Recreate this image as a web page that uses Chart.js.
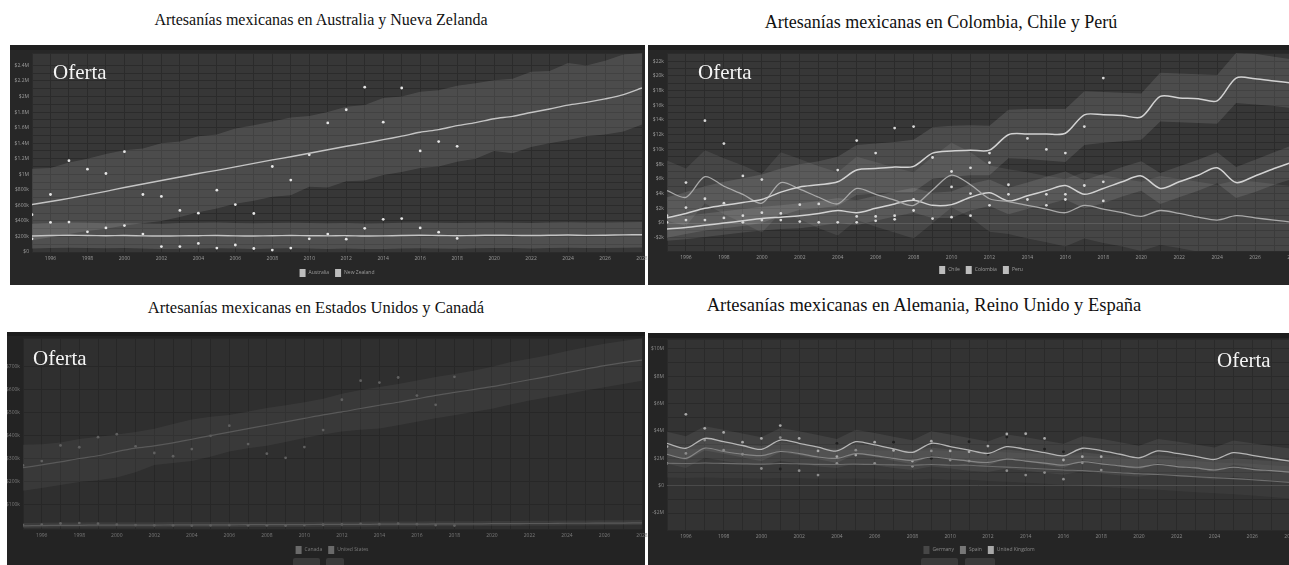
<!DOCTYPE html>
<html><head><meta charset="utf-8">
<script src="https://cdn.jsdelivr.net/npm/chart.js@4.4.1/dist/chart.umd.min.js"></script>
<style>
body{margin:0;width:1289px;height:565px;overflow:hidden;position:relative;background:#fff;}
.title{position:absolute;font-family:'Liberation Serif','Times New Roman',serif;color:#111;white-space:nowrap;text-align:center;line-height:1;}
.oferta{position:absolute;font-family:'Liberation Serif','Times New Roman',serif;color:#f4f4f4;font-size:21px;line-height:1;z-index:5;}
canvas{position:absolute;}
</style></head><body>
<div class="title" style="left:0;width:642px;top:12px;font-size:16px">Artesanías mexicanas en Australia y Nueva Zelanda</div>
<div class="title" style="left:620px;width:642px;top:13px;font-size:18px">Artesanías mexicanas en Colombia, Chile y Perú</div>
<div class="title" style="left:0;width:632px;top:300px;font-size:16.5px">Artesanías mexicanas en Estados Unidos y Canadá</div>
<div class="title" style="left:603px;width:642px;top:296px;font-size:18.5px">Artesanías mexicanas en Alemania, Reino Unido y España</div>
<canvas id="c1" width="655" height="240" style="left:10px;top:45px"></canvas>
<canvas id="c2" width="665" height="240" style="left:648px;top:45px"></canvas>
<canvas id="c3" width="658" height="240" style="left:7px;top:332px"></canvas>
<canvas id="c4" width="665" height="240" style="left:648px;top:333px"></canvas>
<div class="oferta" style="left:53px;top:62px">Oferta</div>
<div class="oferta" style="left:698px;top:62px">Oferta</div>
<div class="oferta" style="left:33px;top:348px">Oferta</div>
<div class="oferta" style="left:1217px;top:350px">Oferta</div>
<script>
// ---------- data ----------
const YEARS = [1995,1996,1997,1998,1999,2000,2001,2002,2003,2004,2005,2006,2007,2008,2009,2010,2011,2012,2013,2014,2015,2016,2017,2018,2019,2020,2021,2022,2023,2024,2025,2026,2027,2028];
const HIST_YEARS = [1995,1996,1997,1998,1999,2000,2001,2002,2003,2004,2005,2006,2007,2008,2009,2010,2011,2012,2013,2014,2015,2016,2017,2018];

// Panel 1: Australia / New Zealand (thousand USD)
const AU_FORECAST = [610,650,690,735,780,830,875,920,965,1010,1050,1095,1140,1185,1225,1270,1315,1360,1400,1445,1490,1540,1575,1625,1665,1715,1745,1795,1840,1890,1925,1970,2025,2110];
const AU_UPPER = [1070,1080,1150,1200,1260,1310,1330,1400,1420,1490,1510,1590,1630,1680,1730,1750,1800,1870,1890,1980,2000,2060,2080,2140,2170,2210,2230,2320,2330,2430,2400,2460,2540,2560];
const AU_LOWER = [150,190,230,270,300,340,370,400,450,510,560,620,660,710,730,840,830,910,920,990,1030,1080,1100,1160,1200,1300,1270,1350,1400,1440,1490,1510,1550,1640];
const AU_ACTUAL = [480,740,1175,1065,1010,1290,740,715,535,500,795,610,495,1100,925,1250,1660,1830,2120,1670,2110,1300,1420,1360];
const NZ_FORECAST = [205,212,215,213,210,212,208,205,207,210,212,208,206,209,212,210,208,210,205,207,212,215,212,210,213,216,214,212,215,218,214,216,220,222];
const NZ_UPPER = [365,372,378,375,370,372,368,365,372,375,378,372,370,373,376,372,370,372,368,370,376,378,375,372,377,380,376,374,378,382,378,380,384,386];
const NZ_LOWER = [45,52,55,50,48,50,46,40,42,45,48,44,40,44,48,45,40,44,38,40,45,48,44,42,48,52,50,46,50,54,50,52,56,58];
const NZ_ACTUAL = [170,380,385,260,310,340,230,70,70,110,50,90,45,25,50,170,230,165,305,420,430,310,255,175];

// Panel 2: Colombia / Chile / Peru (thousand USD)
const CO_FORECAST = [0.7,1.3,2.0,2.4,2.8,3.2,4.2,4.9,5.2,5.6,7.2,7.4,7.6,7.7,9.5,9.8,9.9,9.9,12.0,12.1,12.1,12.2,14.7,14.7,14.6,14.4,17.2,17.0,16.9,16.6,19.7,19.6,19.3,19.0];
const CO_UPPER = [3.5,4.2,5.0,5.6,6.1,6.6,7.4,8.0,8.4,9.0,10.6,10.8,11.0,11.3,13.0,13.2,13.3,13.2,15.4,15.5,15.5,15.5,17.9,17.8,17.7,17.6,20.4,20.3,20.2,20.1,23.1,23.0,22.6,22.2];
const CO_LOWER = [-2.0,-1.5,-1.0,-0.7,-0.4,0.0,1.0,1.8,2.0,2.3,3.8,4.0,4.2,4.2,6.0,6.3,6.5,6.5,8.8,8.7,8.5,8.3,10.6,10.9,11.1,11.3,13.8,13.7,13.6,13.5,16.3,16.1,15.9,15.6];
const CO_ACTUAL = [1.0,5.5,13.9,10.8,6.4,5.9,null,2.5,2.6,7.2,11.2,9.5,12.9,13.1,8.9,7.0,7.5,9.5,5.2,11.5,10.0,9.5,13.1,19.7];
const CL_FORECAST = [4.4,3.5,6.3,5.0,3.9,2.7,5.5,4.6,3.5,2.6,4.7,3.9,3.1,2.4,4.5,6.5,5.2,3.3,2.9,2.4,1.9,1.4,2.4,1.9,1.4,0.9,1.7,1.3,0.8,0.4,1.0,0.7,0.4,0.1];
const CL_UPPER = [8.5,7.4,9.9,8.8,7.8,6.7,9.6,8.7,7.7,6.9,9.0,8.3,7.5,6.9,9.0,10.9,9.6,7.8,7.3,6.9,6.4,6.0,6.9,6.5,6.0,5.6,6.4,6.0,5.6,5.2,5.8,5.6,5.3,5.0];
const CL_LOWER = [0.3,-0.4,2.7,1.2,0.0,-1.3,1.4,0.5,-0.7,-1.7,0.4,-0.5,-1.3,-2.1,0.0,2.1,0.8,-1.2,-1.5,-2.1,-2.6,-3.2,-2.1,-2.7,-3.2,-3.8,-3.0,-3.4,-3.9,-4.4,-3.8,-4.2,-4.5,-4.8];
const CL_ACTUAL = [null,2.1,3.3,2.7,1.0,1.4,1.3,null,null,null,0.9,0.9,1.0,3.2,null,4.9,4.0,8.2,3.9,3.2,3.9,3.9,5.1,5.6];
const PE_FORECAST = [-0.8,-0.6,-0.3,0.0,0.3,0.6,0.8,1.0,1.3,1.7,1.4,2.0,2.6,3.1,2.4,2.5,3.5,4.1,3.0,3.7,4.4,5.1,3.9,4.7,5.6,6.4,4.7,5.6,6.5,7.5,5.5,6.4,7.4,8.3];
const PE_UPPER = [0.8,1.0,1.3,1.6,1.9,2.2,2.4,2.7,3.0,3.4,3.1,3.7,4.3,4.8,4.1,4.3,5.3,5.9,4.8,5.5,6.3,7.0,5.8,6.7,7.6,8.4,6.8,7.7,8.6,9.6,7.6,8.6,9.6,10.6];
const PE_LOWER = [-2.4,-2.2,-1.9,-1.6,-1.3,-1.0,-0.8,-0.7,-0.4,0.0,-0.3,0.3,0.9,1.4,0.7,0.7,1.7,2.3,1.2,1.9,2.5,3.2,2.0,2.7,3.6,4.4,2.6,3.5,4.4,5.4,3.4,4.2,5.2,6.0];
const PE_ACTUAL = [0.1,0.4,0.4,0.7,0.1,0.4,0.4,0.2,0.1,0.1,0.1,0.3,0.5,1.7,0.6,0.8,1.0,2.4,null,null,2.4,3.2,null,3.0];

// Panel 3: United States / Canada (thousand USD)
const US_FORECAST = [260,272,285,300,312,330,345,355,368,384,400,415,430,445,460,475,490,503,518,532,545,560,575,588,600,613,628,643,658,674,690,705,718,729];
const US_UPPER = [360,362,370,385,395,405,415,430,450,470,482,490,505,520,532,545,560,582,598,612,625,640,655,668,682,700,720,735,750,768,785,800,812,824];
const US_LOWER = [160,172,185,198,205,217,240,272,280,289,308,331,345,356,372,389,405,418,425,431,445,460,475,489,503,517,535,553,567,581,596,610,625,639];
const US_ACTUAL = [270,289,357,349,393,406,353,324,310,341,399,443,363,321,303,350,424,556,639,631,653,574,534,656];
const CA_FORECAST = [7,8,9,9,10,10,10,10,11,11,11,11,12,12,12,12,13,13,13,14,14,14,15,15,15,16,16,17,17,18,18,19,19,20];
const CA_UPPER = [19,20,21,21,22,22,22,22,23,23,23,23,24,24,24,24,25,25,25,26,26,26,27,27,27,28,28,29,29,30,30,31,31,32];
const CA_LOWER = [-3,-2,-1,-1,0,0,0,0,1,1,1,1,2,2,2,2,3,3,3,4,4,4,5,5,5,6,6,7,7,8,8,9,9,10];
const CA_ACTUAL = [10,12,17,19,16,12,10,9,9,8,9,10,9,9,8,10,12,13,15,14,16,14,10,8];

// Panel 4: Germany / Spain / United Kingdom (million USD)
const UK_FORECAST = [3.1,2.74,3.46,3.22,2.94,2.66,3.34,3.1,2.82,2.54,3.22,2.98,2.7,2.44,3.1,2.86,2.6,2.36,2.86,2.66,2.42,2.18,2.74,2.56,2.3,2.04,2.54,2.36,2.14,1.92,2.42,2.22,2.0,1.8];
const UK_UPPER = [3.95,3.62,4.34,4.1,3.82,3.54,4.22,3.98,3.7,3.42,4.1,3.86,3.58,3.32,3.98,3.74,3.48,3.24,3.74,3.54,3.3,3.06,3.62,3.44,3.18,2.92,3.42,3.24,3.02,2.8,3.3,3.1,2.9,2.72];
const UK_LOWER = [2.25,1.86,2.58,2.34,2.06,1.78,2.46,2.22,1.94,1.66,2.34,2.1,1.82,1.56,2.22,1.98,1.72,1.48,1.98,1.78,1.54,1.3,1.86,1.68,1.42,1.16,1.66,1.48,1.26,1.04,1.54,1.34,1.12,0.9];
const UK_ACTUAL = [2.86,5.22,4.2,3.9,3.18,3.46,4.4,3.46,2.54,2.12,2.24,3.18,2.58,1.8,3.26,2.54,2.48,2.9,3.78,3.8,3.46,1.88,2.12,2.12];
const ES_FORECAST = [2.3,2.0,2.75,2.5,2.3,2.2,2.5,2.35,2.1,2.0,2.35,2.2,2.0,1.85,2.1,1.95,1.8,1.7,1.95,1.8,1.65,1.5,1.75,1.6,1.45,1.35,1.55,1.4,1.3,1.15,1.35,1.2,1.1,1.0];
const ES_UPPER = [3.0,2.7,3.45,3.2,3.0,2.9,3.2,3.05,2.8,2.7,3.05,2.9,2.7,2.55,2.8,2.65,2.5,2.4,2.65,2.5,2.35,2.2,2.45,2.3,2.15,2.05,2.25,2.1,2.0,1.85,2.05,1.9,1.8,1.7];
const ES_LOWER = [1.6,1.3,2.05,1.8,1.6,1.5,1.8,1.65,1.4,1.3,1.65,1.5,1.3,1.15,1.4,1.25,1.1,1.0,1.25,1.1,0.95,0.8,1.05,0.9,0.75,0.65,0.85,0.7,0.6,0.45,0.65,0.5,0.4,0.3];
const ES_ACTUAL = [1.64,2.36,3.34,2.6,2.3,1.26,3.52,1.1,0.78,1.64,2.6,1.64,null,1.42,2.54,1.88,1.8,null,1.1,0.78,0.96,0.48,1.68,1.14];
const DE_FORECAST = [1.64,1.62,1.66,1.63,1.6,1.58,1.62,1.6,1.56,1.55,1.58,1.55,1.52,1.5,1.55,1.5,1.5,1.42,1.36,1.3,1.22,1.15,1.1,1.02,0.95,0.87,0.82,0.74,0.66,0.58,0.52,0.44,0.34,0.24];
const DE_UPPER = [2.7,2.68,2.72,2.7,2.66,2.64,2.68,2.66,2.62,2.6,2.64,2.6,2.58,2.56,2.6,2.56,2.56,2.5,2.44,2.38,2.3,2.24,2.2,2.12,2.06,1.98,1.94,1.86,1.8,1.72,1.66,1.6,1.5,1.42];
const DE_LOWER = [0.6,0.56,0.6,0.56,0.54,0.52,0.56,0.54,0.5,0.5,0.52,0.5,0.46,0.44,0.5,0.44,0.44,0.34,0.28,0.22,0.14,0.06,0.0,-0.08,-0.16,-0.24,-0.3,-0.38,-0.48,-0.56,-0.62,-0.72,-0.82,-0.94];
const DE_ACTUAL = [null,null,null,null,null,null,1.22,null,null,3.1,null,null,3.18,null,2.0,null,3.22,2.3,3.56,null,2.68,2.48,null,null];

// tick label years shown on the x axes
const X_LABEL_YEARS = [1996,1998,2000,2002,2004,2006,2008,2010,2012,2014,2016,2018,2020,2022,2024,2026,2028];

// ---------- helpers ----------
Chart.defaults.font.family = "'Open Sans', sans-serif";
const xy = (xs, ys) => ys.map((v, i) => ({x: xs[i], y: v}));

const panelBg = {
  id: 'panelBg',
  beforeDraw(chart, args, o) {
    const {ctx, chartArea: a} = chart;
    ctx.save();
    ctx.fillStyle = o.outer; ctx.fillRect(0, 0, o.w, chart.height);
    ctx.fillStyle = o.strip; ctx.fillRect(0, 0, o.w, o.stripH);
    ctx.fillStyle = o.plot; ctx.fillRect(a.left, a.top, a.right - a.left, a.bottom - a.top);
    ctx.restore();
  }
};
const miniLegend = {
  id: 'miniLegend',
  afterDraw(chart, args, o) {
    const ctx = chart.ctx;
    ctx.save();
    ctx.font = "5px 'Open Sans'";
    const bw = 6, bh = 8, gap = 3, sep = 6;
    const items = o.items;
    const widths = items.map(it => ctx.measureText(it.label).width);
    let total = 0;
    items.forEach((it, i) => { total += bw + gap + widths[i] + (i < items.length - 1 ? sep : 0); });
    let x = o.cx - total / 2;
    ctx.textBaseline = 'middle';
    items.forEach((it, i) => {
      ctx.fillStyle = it.color; ctx.fillRect(x, o.y - bh / 2, bw, bh);
      x += bw + gap;
      ctx.fillStyle = o.textColor; ctx.fillText(it.label, x, o.y);
      x += widths[i] + sep;
    });
    if (o.buttons) {
      o.buttons.forEach(b => {
        ctx.fillStyle = b.color;
        ctx.beginPath();
        if (ctx.roundRect) ctx.roundRect(b.x, b.y, b.w, b.h, 2); else ctx.rect(b.x, b.y, b.w, b.h);
        ctx.fill();
      });
    }
    ctx.restore();
  }
};

function lineDs(label, data, color, width) {
  return {label, data: xy(YEARS, data), borderColor: color, borderWidth: width || 1.3, pointRadius: 0, fill: false, tension: 0.3};
}
function ptsDs(label, data, color) {
  return {label, data: xy(HIST_YEARS, data), showLine: false, pointRadius: 1.4, pointBackgroundColor: color, pointBorderWidth: 0, borderColor: 'transparent'};
}
function bandDs(upper, lower, color, upperIndex) {
  return [
    {label: 'hi', data: xy(YEARS, upper), borderWidth: 0, pointRadius: 0, fill: false, tension: 0},
    {label: 'lo', data: xy(YEARS, lower), borderWidth: 0, pointRadius: 0, fill: {target: upperIndex}, backgroundColor: color, tension: 0}
  ];
}

function makeChart(id, cfg) {
  const datasets = [...cfg.lines, ...cfg.points];
  cfg.bands.forEach(b => {
    const idx = datasets.length;
    datasets.push(...bandDs(b[0], b[1], b[2], idx));
  });
  return new Chart(document.getElementById(id), {
    type: 'line',
    data: {datasets},
    plugins: [panelBg, miniLegend],
    options: {
      responsive: false, animation: false, devicePixelRatio: 1,
      layout: {padding: cfg.pad},
      plugins: {
        legend: {display: false}, tooltip: {enabled: false},
        panelBg: cfg.bg,
        miniLegend: cfg.legend
      },
      scales: {
        x: {
          type: 'linear', min: 1995, max: 2028,
          ticks: {stepSize: 1, autoSkip: false, maxRotation: 0, color: cfg.tickColor, font: {size: 5}, padding: 4,
            callback: v => X_LABEL_YEARS.includes(v) ? String(v) : ''},
          grid: {color: cfg.grid, drawTicks: false, lineWidth: 1},
          border: {display: false},
          afterFit: s => { s.height = cfg.xh; }
        },
        y: {
          min: cfg.ymin, max: cfg.ymax,
          ticks: {stepSize: cfg.step, autoSkip: false, color: cfg.tickColor, font: {size: 5}, padding: 3,
            callback: v => cfg.labelOk(v) ? cfg.fmt(v) : ''},
          grid: {color: c => (c.tick && c.tick.value === 0 && cfg.zeroLine) ? cfg.zeroLine : cfg.grid, drawTicks: false, lineWidth: 1},
          border: {display: false},
          afterFit: s => { s.width = cfg.yw; }
        }
      }
    }
  });
}

const isMult = (v, m) => Math.abs(v / m - Math.round(v / m)) < 1e-6;

// ---------- Panel 1 ----------
makeChart('c1', {
  pad: {left: 0, right: 23, top: 8, bottom: 19}, yw: 22, xh: 14,
  ymin: 0, ymax: 2560, step: 100, labelOk: v => isMult(v, 200),
  fmt: v => v === 0 ? '$0' : (v >= 1000 ? '$' + (+(v / 1000).toFixed(1)) + 'M' : '$' + v + 'k'),
  grid: '#2b2b2b', tickColor: '#9c9c9c',
  bg: {outer: '#272727', strip: '#1f1f1f', stripH: 5, plot: '#373737', w: 635},
  legend: {cx: 327, y: 228, textColor: '#9c9c9c', items: [{label: 'Australia', color: '#bdbdbd'}, {label: 'New Zealand', color: '#bdbdbd'}]},
  lines: [lineDs('Australia', AU_FORECAST, '#c4c4c4', 1.4), lineDs('New Zealand', NZ_FORECAST, '#c4c4c4', 1.4)],
  points: [ptsDs('Australia actual', AU_ACTUAL, '#e6e6e6'), ptsDs('New Zealand actual', NZ_ACTUAL, '#e6e6e6')],
  bands: [[AU_UPPER, AU_LOWER, 'rgba(255,255,255,0.11)'], [NZ_UPPER, NZ_LOWER, 'rgba(255,255,255,0.13)']]
});

// ---------- Panel 2 ----------
makeChart('c2', {
  pad: {left: 0, right: 20, top: 8, bottom: 20}, yw: 19, xh: 14,
  ymin: -3.8, ymax: 23.1, step: 1, labelOk: v => isMult(v, 2),
  fmt: v => v === 0 ? '$0' : (v < 0 ? '-$' + (-v) + 'k' : '$' + v + 'k'),
  grid: '#2b2b2b', zeroLine: '#4e4e4e', tickColor: '#9c9c9c',
  bg: {outer: '#272727', strip: '#1f1f1f', stripH: 5, plot: '#373737', w: 665},
  legend: {cx: 333, y: 225, textColor: '#9c9c9c', items: [{label: 'Chile', color: '#bdbdbd'}, {label: 'Colombia', color: '#bdbdbd'}, {label: 'Peru', color: '#bdbdbd'}]},
  lines: [lineDs('Colombia', CO_FORECAST, '#d2d2d2', 1.5), lineDs('Chile', CL_FORECAST, '#a9a9a9', 1.3), lineDs('Peru', PE_FORECAST, '#d2d2d2', 1.5)],
  points: [ptsDs('Colombia actual', CO_ACTUAL, '#d8d8d8'), ptsDs('Chile actual', CL_ACTUAL, '#d8d8d8'), ptsDs('Peru actual', PE_ACTUAL, '#d8d8d8')],
  bands: [[CO_UPPER, CO_LOWER, 'rgba(255,255,255,0.11)'], [CL_UPPER, CL_LOWER, 'rgba(255,255,255,0.08)'], [PE_UPPER, PE_LOWER, 'rgba(255,255,255,0.10)']]
});

// ---------- Panel 3 ----------
makeChart('c3', {
  pad: {left: 0, right: 23, top: 3, bottom: 29}, yw: 16, xh: 14,
  ymin: -7, ymax: 825, step: 100, labelOk: v => isMult(v, 100),
  fmt: v => v === 0 ? '$0' : '$' + v + 'k',
  grid: '#272727', tickColor: '#7a7a7a',
  bg: {outer: '#232323', strip: '#1c1c1c', stripH: 4, plot: '#2f2f2f', w: 638},
  legend: {cx: 325, y: 218, textColor: '#7a7a7a', items: [{label: 'Canada', color: '#6a6a6a'}, {label: 'United States', color: '#6a6a6a'}],
    buttons: [{x: 286, y: 226, w: 27, h: 10, color: '#3a3a3a'}, {x: 319, y: 226, w: 18, h: 10, color: '#3a3a3a'}]},
  lines: [lineDs('United States', US_FORECAST, '#595959', 1.2), lineDs('Canada', CA_FORECAST, '#5a5a5a', 1.2)],
  points: [ptsDs('United States actual', US_ACTUAL, '#606060'), ptsDs('Canada actual', CA_ACTUAL, '#606060')],
  bands: [[US_UPPER, US_LOWER, 'rgba(255,255,255,0.05)'], [CA_UPPER, CA_LOWER, 'rgba(255,255,255,0.06)']]
});

// ---------- Panel 4 ----------
makeChart('c4', {
  pad: {left: 0, right: 23, top: 6, bottom: 29}, yw: 19, xh: 14,
  ymin: -3.24, ymax: 10.73, step: 1, labelOk: v => isMult(v, 2),
  fmt: v => v === 0 ? '$0' : (v < 0 ? '-$' + (-v) + 'M' : '$' + v + 'M'),
  grid: '#2a2a2a', zeroLine: '#4a4a4a', tickColor: '#8a8a8a',
  bg: {outer: '#252525', strip: '#1d1d1d', stripH: 5, plot: '#333333', w: 665},
  legend: {cx: 331, y: 217, textColor: '#8a8a8a', items: [{label: 'Germany', color: '#474747'}, {label: 'Spain', color: '#777777'}, {label: 'United Kingdom', color: '#a8a8a8'}],
    buttons: [{x: 273, y: 225, w: 37, h: 10, color: '#3a3a3a'}, {x: 317, y: 225, w: 30, h: 10, color: '#3a3a3a'}]},
  lines: [lineDs('United Kingdom', UK_FORECAST, '#b5b5b5', 1.3), lineDs('Spain', ES_FORECAST, '#858585', 1.2), lineDs('Germany', DE_FORECAST, '#6e6e6e', 1.1)],
  points: [ptsDs('United Kingdom actual', UK_ACTUAL, '#a9a9a9'), ptsDs('Spain actual', ES_ACTUAL, '#8c8c8c'), ptsDs('Germany actual', DE_ACTUAL, '#1e1e1e')],
  bands: [[UK_UPPER, UK_LOWER, 'rgba(255,255,255,0.07)'], [ES_UPPER, ES_LOWER, 'rgba(255,255,255,0.06)'], [DE_UPPER, DE_LOWER, 'rgba(255,255,255,0.035)']]
});
</script>
</body></html>
